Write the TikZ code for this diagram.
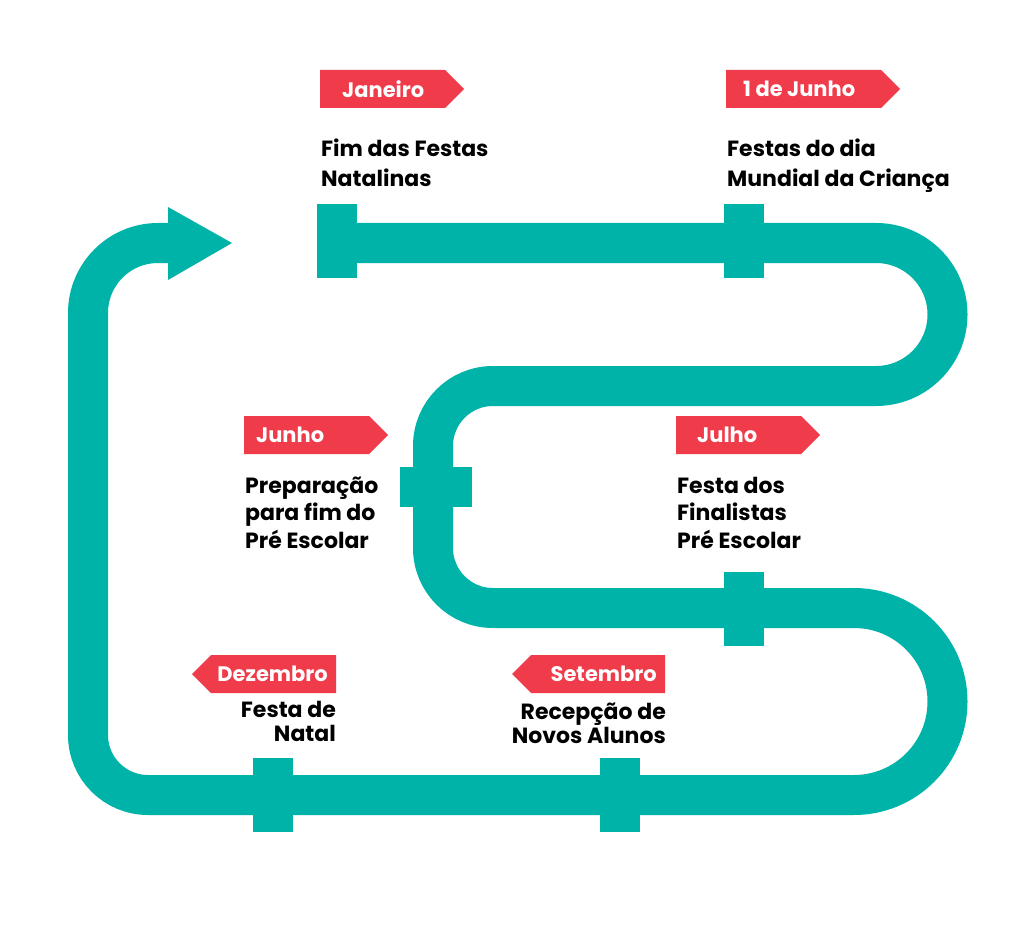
\documentclass[tikz,border=0pt]{standalone}
\usepackage{fontspec}
\setmainfont{Poppins}
\definecolor{trilha}{RGB}{0,179,169}
\definecolor{etiqueta}{RGB}{239,59,74}
\tikzset{
  marco/.style={fill=trilha, inner sep=0pt, minimum width=40, minimum height=74},
  marcoh/.style={fill=trilha, inner sep=0pt, minimum width=72, minimum height=40},
  mes/.style={text=white, font=\fontsize{21}{24}\selectfont\bfseries, inner sep=0pt},
  evento/.style={font=\fontsize{22}{30}\selectfont\bfseries, inner sep=0pt, align=left},
}

\begin{document}
\begin{tikzpicture}[x=1pt,y=-1pt]
\useasboundingbox (0,0) rectangle (1024,933);
% trilha
\draw[trilha, line width=40] (317,243) -- (876,243) arc[start angle=-90, end angle=90, radius=71.5]
  -- (493,386) arc[start angle=-90, end angle=-180, radius=60]
  -- (433,548) arc[start angle=180, end angle=90, radius=60]
  -- (854,608) arc[start angle=-90, end angle=90, radius=93.5]
  -- (148,795) arc[start angle=90, end angle=180, radius=60]
  -- (88,313) arc[start angle=180, end angle=270, radius=70] -- (170,243);
\fill[trilha] (168,207) -- (232,243) -- (168,280) -- cycle;

% marcos
\node[marco] (mJan) at (337,241) {};
\node[marco] (mJun1) at (744,241) {};
\node[marcoh] (mJun) at (436,487) {};
\node[marco] (mJul) at (744,609) {};
\node[marco] (mSet) at (620,795) {};
\node[marco] (mDez) at (273,795) {};

% etiquetas
\fill[etiqueta] (320,70) -- (445,70) -- (464,89) -- (445,108) -- (320,108) -- cycle;
\node[mes, anchor=west] (jan) at (342,89) {Janeiro};
\fill[etiqueta] (726,70) -- (881,70) -- (900,89) -- (881,108) -- (726,108) -- cycle;
\node[mes, anchor=west] (jun1) at (743,89) {1 de Junho};
\fill[etiqueta] (244,416) -- (369,416) -- (388,435) -- (369,454) -- (244,454) -- cycle;
\node[mes, anchor=west] (jun) at (256,435) {Junho};
\fill[etiqueta] (676,416) -- (801,416) -- (820,435) -- (801,454) -- (676,454) -- cycle;
\node[mes, anchor=west] (jul) at (697,435) {Julho};
\fill[etiqueta] (336,655) -- (211,655) -- (192,674) -- (211,693) -- (336,693) -- cycle;
\node[mes, anchor=east] (dez) at (328,674) {Dezembro};
\fill[etiqueta] (665,655) -- (531,655) -- (512,674) -- (531,693) -- (665,693) -- cycle;
\node[mes, anchor=east] (set) at (657,674) {Setembro};

% eventos (base = ultima linha)
\node[evento, anchor=base west] (eJan) at (321,187) {Fim das Festas\\Natalinas};
\node[evento, anchor=base west] (eJun1) at (727,187) {Festas do dia\\Mundial da Criança};
\node[evento, anchor=base west, font=\fontsize{22}{27.5}\selectfont\bfseries] (eJun) at (245,548) {Preparação\\para fim do\\Pré Escolar};
\node[evento, anchor=base west, font=\fontsize{22}{27.5}\selectfont\bfseries] (eJul) at (677,548) {Festa dos\\Finalistas\\Pré Escolar};
\node[evento, anchor=base east, align=right, font=\fontsize{22}{24}\selectfont\bfseries] (eDez) at (336,741) {Festa de\\Natal};
\node[evento, anchor=base east, align=right, font=\fontsize{22}{24}\selectfont\bfseries] (eSet) at (666,743) {Recepção de\\Novos Alunos};
\end{tikzpicture}
\end{document}
